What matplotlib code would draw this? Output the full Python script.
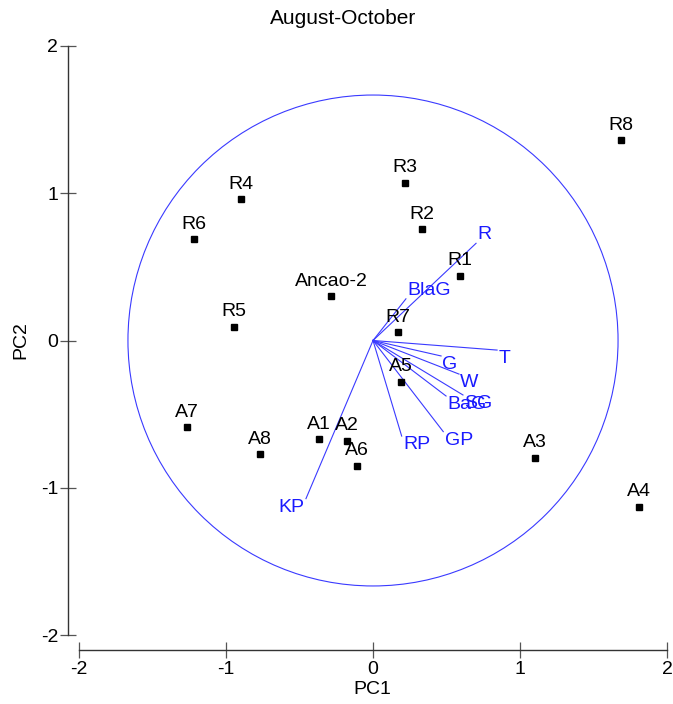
import matplotlib
matplotlib.use("Agg")
import matplotlib.pyplot as plt
from matplotlib.patches import Circle

plt.rcParams['font.family'] = ['Liberation Sans', 'DejaVu Sans']
plt.rcParams['axes.unicode_minus'] = False

# Site scores on the first two principal components
sites = ['R1', 'R2', 'R3', 'R4', 'R5', 'R6', 'R7', 'R8', 'Ancao-2',
         'A1', 'A2', 'A3', 'A4', 'A5', 'A6', 'A7', 'A8']
site_pc1 = [0.592, 0.331, 0.218, -0.896, -0.946, -1.220, 0.170, 1.687, -0.286,
            -0.365, -0.175, 1.104, 1.807, 0.190, -0.107, -1.267, -0.769]
site_pc2 = [0.440, 0.755, 1.072, 0.959, 0.094, 0.689, 0.056, 1.362, 0.300,
            -0.671, -0.680, -0.796, -1.129, -0.280, -0.850, -0.590, -0.773]

# Variable loadings (vector tips)
variables = ['R', 'BlaG', 'T', 'G', 'W', 'SG', 'BaG', 'GP', 'RP', 'KP']
var_pc1 = [0.701, 0.224, 0.844, 0.463, 0.585, 0.612, 0.497, 0.478, 0.195, -0.456]
var_pc2 = [0.660, 0.283, -0.065, -0.105, -0.228, -0.370, -0.377, -0.619, -0.649, -1.074]

circle_radius = 1.667
ticks = [-2, -1, 0, 1, 2]

W, H = 673, 704
fig = plt.figure(figsize=(W / 100, H / 100), dpi=100)
ax = fig.add_axes([79 / W, 69 / H, 588 / W, 589 / H])
ax.set_xlim(-2, 2)
ax.set_ylim(-2, 2)

blue_line = '#3a3aff'
blue_text = '#1a1aff'
fs = 14

ax.add_patch(Circle((0, 0), circle_radius, fill=False, edgecolor=blue_line,
                    linewidth=0.8, clip_on=False))

for name, x, y in zip(variables, var_pc1, var_pc2):
    ax.plot([0, x], [0, y], color=blue_line, linewidth=0.8)
    ha = 'left' if x >= 0 else 'right'
    va = 'bottom' if y >= 0 else 'top'
    ax.annotate(name, (x, y), xytext=(1 if x >= 0 else -1, 0),
                textcoords='offset points', ha=ha, va=va,
                color=blue_text, fontsize=fs)

ax.plot(site_pc1, site_pc2, linestyle='none', marker='s', markersize=5,
        color='black')
for name, x, y in zip(sites, site_pc1, site_pc2):
    ax.annotate(name, (x, y), xytext=(0, 7.5), textcoords='offset points',
                ha='center', va='baseline', color='black', fontsize=fs)

for side in ('top', 'right'):
    ax.spines[side].set_visible(False)
ax.spines['left'].set_position(('outward', 7.9))
ax.spines['bottom'].set_position(('outward', 10.8))
ax.spines['left'].set_bounds(-2, 2)
ax.spines['bottom'].set_bounds(-2, 2)
for side in ('left', 'bottom'):
    ax.spines[side].set_color('#333333')
    ax.spines[side].set_linewidth(1.0)

ax.set_xticks(ticks)
ax.set_yticks(ticks)
ax.tick_params(direction='inout', length=12, width=0.9, color='#555555',
               labelsize=fs, pad=1)
ax.tick_params(axis='x', pad=2)

fig.text(372 / W, 1 - 690 / H, 'PC1', ha='center', va='center', fontsize=fs)
fig.text(21 / W, 1 - 340 / H, 'PC2', ha='center', va='center', fontsize=fs,
         rotation=90)
fig.text(343 / W, 1 - 18 / H, 'August-October', ha='center', va='center',
         fontsize=15)

fig.savefig('out.png', dpi=100)
